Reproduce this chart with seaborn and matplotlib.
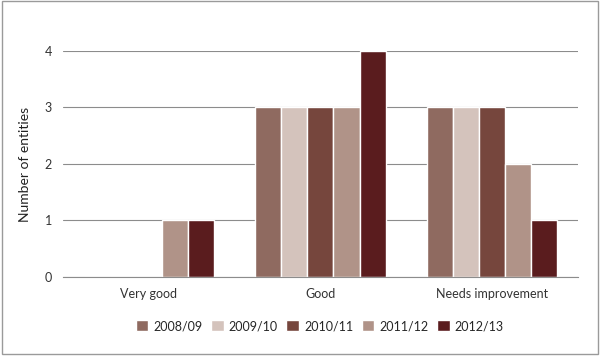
import pandas as pd
import seaborn as sns
import matplotlib.pyplot as plt
from matplotlib.patches import Rectangle

# Chart data
categories = ['Very good', 'Good', 'Needs improvement']
years = ['2008/09', '2009/10', '2010/11', '2011/12', '2012/13']
v_2008 = [0, 3, 3]
v_2009 = [0, 3, 3]
v_2010 = [0, 3, 3]
v_2011 = [1, 3, 2]
v_2012 = [1, 4, 1]
colors = ['#8f6a60', '#d4c3bc', '#76463d', '#b09388', '#5a1c1e']

rows = []
for year, vals in zip(years, [v_2008, v_2009, v_2010, v_2011, v_2012]):
    for cat, v in zip(categories, vals):
        rows.append({'category': cat, 'year': year, 'count': v})
df = pd.DataFrame(rows)

sns.set_style('white')
plt.rcParams['font.family'] = ['Lato', 'DejaVu Sans']

fig = plt.figure(figsize=(6, 3.56), dpi=100)
ax = fig.add_axes([0.105, 0.222, 0.858, 0.635])

sns.barplot(data=df, x='category', y='count', hue='year', order=categories,
            hue_order=years, palette=colors, width=0.76, gap=0,
            saturation=1, ax=ax, legend=True)

ax.set_ylim(0, 4)
ax.set_xlim(-0.5, 2.5)
ax.set_yticks([0, 1, 2, 3, 4])
ax.yaxis.grid(True, color='#8c8c8c', linewidth=0.8)
ax.set_axisbelow(True)
for s in ['top', 'right', 'left']:
    ax.spines[s].set_visible(False)
ax.spines['bottom'].set_color('#8c8c8c')
ax.spines['bottom'].set_linewidth(0.8)

ax.set_xticks([0, 1, 2])
ax.set_xticklabels(categories, fontsize=9, color='#333333')
ax.set_xticks([-0.5, 0.5, 1.5, 2.5], minor=True)
ax.tick_params(axis='x', which='major', length=0, pad=8)
ax.tick_params(axis='x', which='minor', length=4, color='#8c8c8c', width=0.8, direction='out')
ax.tick_params(axis='y', length=0, pad=8, labelsize=9, labelcolor='#333333')
ax.set_xlabel('')
ax.set_ylabel('Number of entities', fontsize=10, color='#222222', labelpad=10)

handles, labels = ax.get_legend_handles_labels()
ax.get_legend().remove()
fig.legend(handles, labels, loc='center', bbox_to_anchor=(0.533, 0.084), ncol=5,
           frameon=False, fontsize=9, handlelength=1.0, handleheight=1.0,
           handletextpad=0.4, columnspacing=0.7)

# outer frame
fig.patches.append(Rectangle((0.003, 0.006), 0.994, 0.99, transform=fig.transFigure,
                             fill=False, edgecolor='#9a9a9a', linewidth=1))

fig.savefig('out.png', dpi=100)
